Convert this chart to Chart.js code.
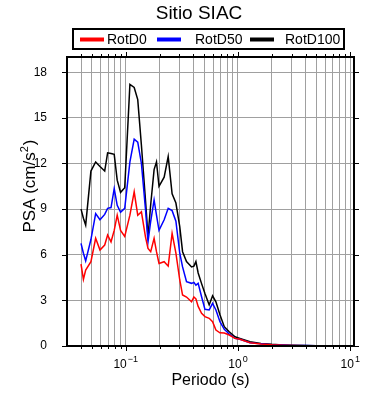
<!DOCTYPE html>
<html><head><meta charset="utf-8">
<script src="https://cdn.jsdelivr.net/npm/chart.js@4.4.1/dist/chart.umd.min.js"></script>
<style>html,body{margin:0;padding:0;background:#fff}</style>
</head><body>
<canvas id="c" width="390" height="400" style="display:block"></canvas>
<script>
// ---- data ----
const periods = [0.040,0.042,0.044,0.049,0.054,0.059,0.065,0.069,0.074,0.079,0.084,0.090,0.098,0.109,0.119,0.128,0.138,0.150,0.158,0.167,0.179,0.188,0.198,0.220,0.239,0.259,0.280,0.303,0.321,0.348,0.386,0.405,0.422,0.442,0.474,0.508,0.554,0.594,0.636,0.691,0.755,0.836,0.940,1.04,1.28,1.6,2.0,2.5,3.0,4.0,5.0,6.0,8.0,10.0];
const rotD0 = [5.39,4.38,4.99,5.54,7.08,6.31,6.64,7.3,6.85,7.6,8.6,7.6,7.2,8.6,10.14,8.6,8.82,7.18,6.42,6.2,7.08,6.2,5.43,5.54,5.25,7.4,6.1,4.34,3.35,3.22,2.91,3.22,3.1,2.6,2.15,1.93,1.82,1.6,1.05,0.87,0.85,0.72,0.5,0.44,0.22,0.13,0.08,0.05,0.035,0.02,0.015,0.01,0.007,0.005];
const rotD50 = [6.75,6.1,5.6,7.0,8.7,8.3,8.65,9.05,9.1,10.35,9.25,8.8,9.05,12.1,13.6,13.4,12.0,9.0,6.85,8.2,9.6,8.6,7.6,8.3,9.05,8.9,8.2,6.1,5.2,4.23,4.12,4.18,4.0,4.12,3.24,2.41,2.37,2.8,2.37,1.6,1.1,0.79,0.5,0.44,0.22,0.14,0.09,0.06,0.04,0.025,0.018,0.012,0.008,0.006];
const rotD100 = [9.0,8.4,7.95,11.5,12.1,11.8,11.5,12.7,12.65,12.6,10.9,10.1,10.4,17.2,17.0,16.2,13.2,9.6,7.2,9.3,11.6,12.1,10.5,11.1,12.45,10.0,9.4,7.85,6.2,5.55,5.2,5.25,5.55,4.8,4.1,3.45,2.7,3.3,2.9,2.05,1.27,0.94,0.61,0.5,0.28,0.17,0.11,0.07,0.05,0.03,0.02,0.015,0.01,0.008];
const seriesNames = ['RotD0','RotD50','RotD100'];
const seriesColors = ['#ff0000','#0000ff','#000000'];
const yTicks = [0,3,6,9,12,15,18];
const xMajorTicks = [0.1,1,10];
const xMajorLabels = [['10','\u22121'],['10','0'],['10','1']];
const chartTitle = 'Sitio SIAC';
const xTitle = 'Periodo (s)';
const yTitleParts = ['PSA (cm/s','2',')'];

// ---- layout / style ----
const X_MIN = 0.03, X_MAX = 10.8, Y_MIN = 0, Y_MAX = 19;
const FONT = '"Liberation Sans", Arial, Helvetica, sans-serif';
const minorTicks = [];
for (let e = -2; e <= 1; e++) for (let m = 1; m <= 9; m++) {
  const v = +(m * Math.pow(10, e)).toPrecision(3);
  if (v > X_MIN * 1.0001 && v <= X_MAX) minorTicks.push(v);
}

const allSeries = [rotD0, rotD50, rotD100];
const datasets = allSeries.map((arr, i) => ({
  label: seriesNames[i],
  data: periods.map((p, j) => ({x: p, y: arr[j]})),
  borderColor: seriesColors[i],
  backgroundColor: seriesColors[i],
  borderWidth: 1.5,
  pointRadius: 0,
  tension: 0,
  fill: false
}));

const decor = {
  id: 'decor',
  afterDraw(chart) {
    const ctx = chart.ctx, a = chart.chartArea;
    const xs = chart.scales.x, ys = chart.scales.y;
    ctx.save();
    // tick marks
    ctx.strokeStyle = '#000'; ctx.lineWidth = 1;
    ctx.beginPath();
    minorTicks.forEach(v => {
      const px = Math.round(xs.getPixelForValue(v)) + 0.5;
      const major = xMajorTicks.some(m => Math.abs(m - v) < 1e-9);
      const L = major ? 5 : 3;
      ctx.moveTo(px, a.bottom); ctx.lineTo(px, a.bottom + L);
      ctx.moveTo(px, a.top); ctx.lineTo(px, a.top - L);
    });
    yTicks.forEach(v => {
      const py = Math.round(ys.getPixelForValue(v)) + 0.5;
      ctx.moveTo(a.left - 5, py); ctx.lineTo(a.left, py);
      ctx.moveTo(a.right, py); ctx.lineTo(a.right + 5, py);
    });
    ctx.stroke();
    // frame
    ctx.lineWidth = 2;
    ctx.strokeRect(a.left, a.top, a.right - a.left, a.bottom - a.top);

    ctx.fillStyle = '#000';
    // y tick labels
    ctx.font = '12px ' + FONT;
    ctx.textAlign = 'right'; ctx.textBaseline = 'middle';
    yTicks.forEach(v => ctx.fillText(String(v), a.left - 20, ys.getPixelForValue(v)));
    // x tick labels with superscripts
    ctx.textBaseline = 'alphabetic'; ctx.textAlign = 'left';
    xMajorTicks.forEach((v, i) => {
      const [b, ex] = xMajorLabels[i];
      ctx.font = '12px ' + FONT; const wb = ctx.measureText(b).width;
      ctx.font = '9px ' + FONT; const we = ctx.measureText(ex).width;
      const px = xs.getPixelForValue(v);
      const x0 = px - (wb + we + 1) / 2;
      ctx.font = '12px ' + FONT; ctx.fillText(b, x0, 368);
      ctx.font = '9px ' + FONT; ctx.fillText(ex, x0 + wb + 1, 362);
    });
    // x title
    ctx.font = '16px ' + FONT; ctx.textAlign = 'center'; ctx.textBaseline = 'middle';
    ctx.fillText(xTitle, (a.left + a.right) / 2, 381);
    // y title (rotated, with superscript)
    ctx.save();
    ctx.translate(30, 186); ctx.rotate(-Math.PI / 2);
    ctx.textAlign = 'left'; ctx.textBaseline = 'middle';
    ctx.font = '17px ' + FONT; const w1 = ctx.measureText(yTitleParts[0]).width; const w3 = ctx.measureText(yTitleParts[2]).width;
    ctx.font = '11px ' + FONT; const w2 = ctx.measureText(yTitleParts[1]).width;
    const tot = w1 + w2 + w3 + 1;
    let x = -tot / 2;
    ctx.font = '17px ' + FONT; ctx.fillText(yTitleParts[0], x, 0); x += w1;
    ctx.font = '11px ' + FONT; ctx.fillText(yTitleParts[1], x, -5); x += w2 + 1;
    ctx.font = '17px ' + FONT; ctx.fillText(yTitleParts[2], x, 0);
    ctx.restore();
    // title
    ctx.font = '19px ' + FONT; ctx.textAlign = 'center'; ctx.textBaseline = 'middle';
    ctx.fillText(chartTitle, 199, 14);
    // legend
    ctx.lineWidth = 2; ctx.strokeStyle = '#000';
    ctx.strokeRect(73, 29, 271, 20);
    const lineX = [80, 157, 250], textX = [107, 195, 285];
    ctx.font = '14px ' + FONT; ctx.textAlign = 'left'; ctx.textBaseline = 'middle';
    chart.data.datasets.forEach((ds, i) => {
      ctx.strokeStyle = ds.borderColor; ctx.lineWidth = 4;
      ctx.beginPath(); ctx.moveTo(lineX[i], 39.5); ctx.lineTo(lineX[i] + 24, 39.5); ctx.stroke();
      ctx.fillStyle = '#000'; ctx.fillText(ds.label, textX[i], 40);
    });
    ctx.restore();
  }
};

new Chart(document.getElementById('c'), {
  type: 'line',
  data: {datasets},
  options: {
    responsive: false, animation: false, devicePixelRatio: 1,
    layout: {padding: {top: 57, right: 36, left: 0, bottom: 0}},
    plugins: {legend: {display: false}, title: {display: false}, tooltip: {enabled: false}},
    scales: {
      x: {
        type: 'logarithmic', min: X_MIN, max: X_MAX,
        afterBuildTicks: s => { s.ticks = minorTicks.map(v => ({value: v})); },
        afterFit: s => { s.height = 54; },
        ticks: {display: false},
        grid: {color: '#a0a0a0', lineWidth: 1, drawTicks: false},
        border: {display: false}
      },
      y: {
        type: 'linear', min: Y_MIN, max: Y_MAX,
        afterBuildTicks: s => { s.ticks = yTicks.map(v => ({value: v})); },
        afterFit: s => { s.width = 67; },
        ticks: {display: false},
        grid: {color: '#a0a0a0', lineWidth: 1, drawTicks: false},
        border: {display: false}
      }
    }
  },
  plugins: [decor]
});
</script>
</body></html>
